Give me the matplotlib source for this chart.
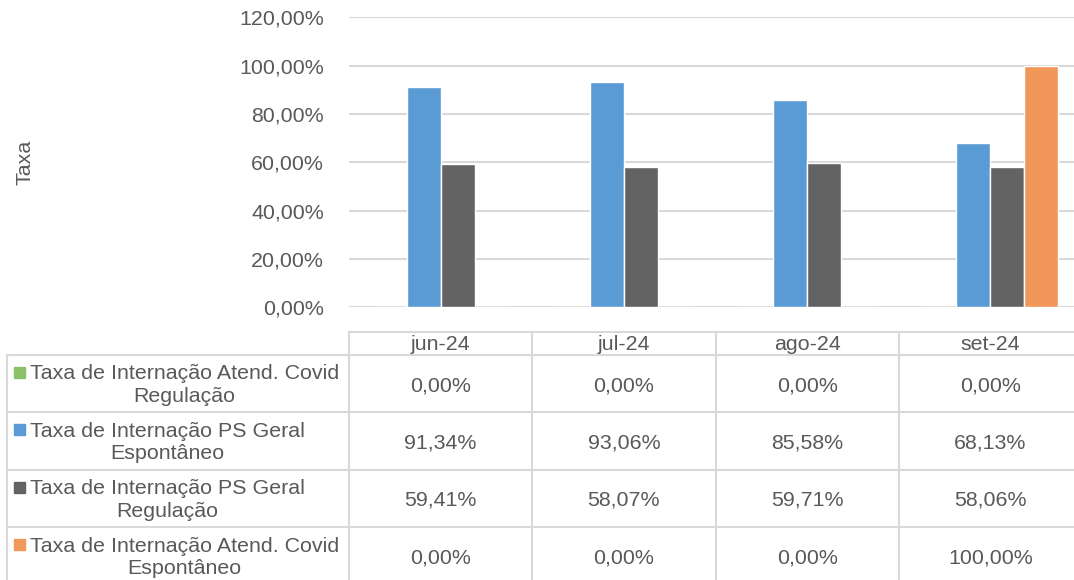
import matplotlib
matplotlib.use("Agg")
import matplotlib.pyplot as plt
from matplotlib import transforms
from matplotlib.patches import Rectangle
from matplotlib.ticker import FuncFormatter

# dados
meses = ["jun-24", "jul-24", "ago-24", "set-24"]
series = [
    "Taxa de Internação Atend. Covid\nRegulação",
    "Taxa de Internação PS Geral\nEspontâneo",
    "Taxa de Internação PS Geral\nRegulação",
    "Taxa de Internação Atend. Covid\nEspontâneo",
]
covid_regulacao = [0.00, 0.00, 0.00, 0.00]
ps_espontaneo = [91.34, 93.06, 85.58, 68.13]
ps_regulacao = [59.41, 58.07, 59.71, 58.06]
covid_espontaneo = [0.00, 0.00, 0.00, 100.00]
valores = [covid_regulacao, ps_espontaneo, ps_regulacao, covid_espontaneo]
cores = ["#8CC168", "#5B9BD5", "#636363", "#F1975A"]

texto = "#595959"
linha = "#D9D9D9"
fs = 15.4
plt.rcParams["font.family"] = ["Liberation Sans", "DejaVu Sans"]

W, H = 1074, 580
fig = plt.figure(figsize=(W / 100, H / 100), dpi=100)

# área do gráfico (pixels -> fração)
x0, x1 = 349, 1082
y_top, y_bot = 17.3, 307.2
ax = fig.add_axes([x0 / W, 1 - y_bot / H, (x1 - x0) / W, (y_bot - y_top) / H])

larg = 0.185
for i, (vals, cor) in enumerate(zip(valores, cores)):
    pos = [k + (i - 1.5) * larg for k in range(len(meses))]
    ax.bar(pos, vals, width=larg, color=cor, edgecolor="white", linewidth=1, zorder=3)

ax.set_xlim(-0.5, len(meses) - 0.5)
ax.set_ylim(0, 120)
ax.set_yticks(range(0, 121, 20))
ax.yaxis.set_major_formatter(FuncFormatter(lambda v, p: f"{v:.2f}%".replace(".", ",")))
ax.set_xticks([])
ax.tick_params(axis="y", length=0, pad=18, labelsize=fs, labelcolor=texto)
for s in ax.spines.values():
    s.set_visible(False)
ax.grid(axis="y", color=linha, linewidth=1.5, zorder=0)
ax.set_ylabel("Taxa", fontsize=fs, color=texto, va="center")
ax.yaxis.set_label_coords(25 / W, 0.5,
                          transform=transforms.blended_transform_factory(fig.transFigure, ax.transAxes))

# tabela de dados
tab = fig.add_axes([0, 0, 1, 1], zorder=-1)
tab.set_xlim(0, W)
tab.set_ylim(H, 0)
tab.axis("off")
tr = transforms.blended_transform_factory(ax.transData, tab.transData)

h_top, h_bot = 332, 355
linhas_y = [355, 412, 470, 527, 585]
fronteiras = [k - 0.5 for k in range(len(meses) + 1)]

kw = dict(color=linha, linewidth=1.5, clip_on=False)
# cabeçalho
tab.plot([x0, x1 + 10], [h_top, h_top], **kw)
for fx in fronteiras:
    tab.plot([fx, fx], [h_top, linhas_y[-1]], transform=tr, **kw)
for yy in linhas_y:
    tab.plot([7, x1 + 10], [yy, yy], **kw)
tab.plot([7, 7], [linhas_y[0], linhas_y[-1]], **kw)

for k, m in enumerate(meses):
    tab.text(k, (h_top + h_bot) / 2 + 1, m, transform=tr, ha="center", va="center",
             fontsize=fs, color=texto)

for r, (nome, vals, cor) in enumerate(zip(series, valores, cores)):
    ya, yb = linhas_y[r], linhas_y[r + 1]
    yc = (ya + yb) / 2
    tab.add_patch(Rectangle((14, ya + 12), 11, 11, color=cor, clip_on=False))
    tab.text(30, yc + 1.5, nome, ha="left", va="center", multialignment="center",
             fontsize=fs, color=texto, linespacing=1.25)
    for k, v in enumerate(vals):
        tab.text(k, yc + 2, f"{v:.2f}%".replace(".", ","), transform=tr, ha="center",
                 va="center", fontsize=fs, color=texto)

fig.savefig("out.png", dpi=100)
